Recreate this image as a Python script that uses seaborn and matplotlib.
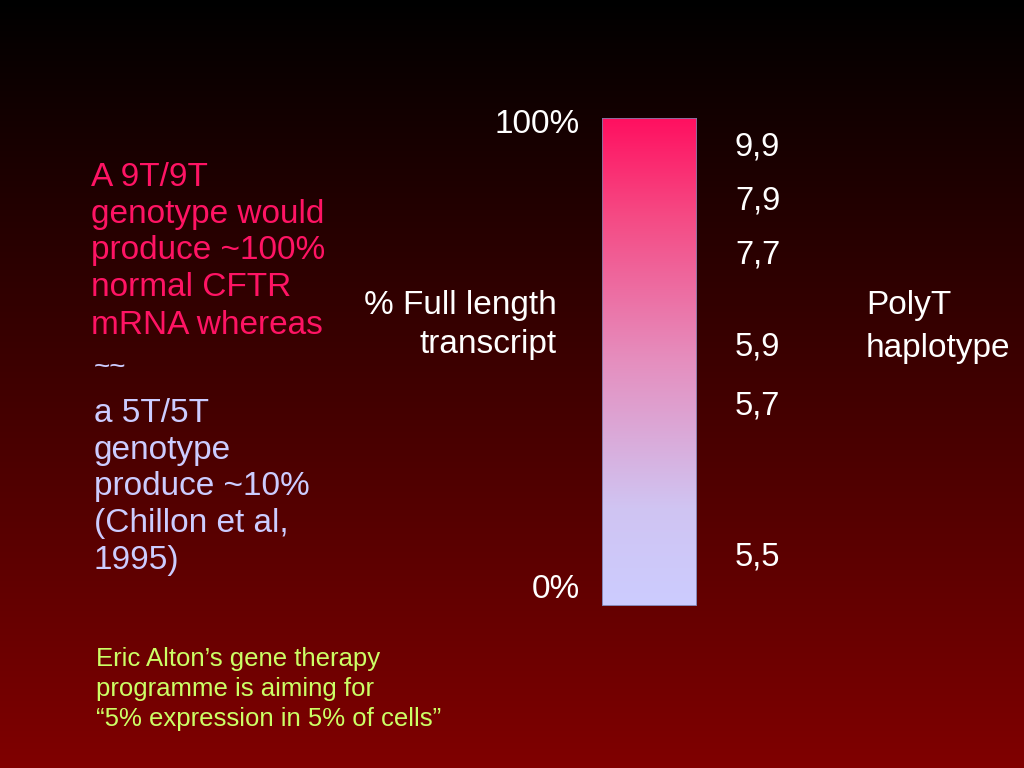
import numpy as np
import pandas as pd
import matplotlib
matplotlib.use("Agg")
import matplotlib.pyplot as plt
from matplotlib.colors import LinearSegmentedColormap
import seaborn as sns

sns.set_style("white")
plt.rcParams["font.family"] = ["Liberation Sans", "DejaVu Sans"]

# %%
# Data

bar_label = ["% Full length transcript"]
bar_value = [100]

haplotypes = ["9,9", "7,9", "7,7", "5,9", "5,7", "5,5"]
haplotype_pct = [94, 83, 72, 53, 41, 10]

pink_lines = ["A 9T/9T", "genotype would", "produce ~100%", "normal CFTR", "mRNA whereas"]
lavender_lines = ["a 5T/5T", "genotype", "produce ~10%", "(Chillon et al,", "1995)"]
note_lines = ["Eric Alton\u2019s gene therapy", "programme is aiming for",
              "\u201c5% expression in 5% of cells\u201d"]

PINK = "#ff1464"
LAVENDER = "#ccccff"
GREEN = "#ccff66"
FS = 24

# %%
# Figure + dark red gradient background

fig = plt.figure(figsize=(10.24, 7.68), dpi=100)
bg = fig.add_axes([0, 0, 1, 1])
bg_cmap = LinearSegmentedColormap.from_list("bg", ["#800000", "#000000"])
bg.imshow(np.linspace(0, 1, 256).reshape(-1, 1), cmap=bg_cmap, aspect="auto",
          extent=[0, 1, 0, 1], origin="lower")
bg.set_xlim(0, 1)
bg.set_ylim(0, 1)
bg.axis("off")

# %%
# Gradient bar

W, H = 1024, 768
ax = fig.add_axes([602 / W, (H - 606) / H, 95 / W, 488 / H])
df = pd.DataFrame({"label": bar_label, "value": bar_value})
sns.barplot(data=df, x="label", y="value", width=1.0, color=LAVENDER,
            edgecolor="#7a7aa8", linewidth=1.2, ax=ax)
ax.set_xlim(-0.5, 0.5)
ax.set_ylim(0, 100)
ax.axis("off")

bar_cmap = LinearSegmentedColormap.from_list(
    "bar", [(0.0, "#ccccff"), (0.2, "#d0c4f2"), (0.5, "#e58fbf"),
            (0.8, "#f54a84"), (1.0, "#ff1060")])
patch = ax.patches[0]
grad = ax.imshow(np.linspace(0, 1, 256).reshape(-1, 1), cmap=bar_cmap,
                 aspect="auto", extent=[-0.5, 0.5, 0, 100], origin="lower", zorder=3)
grad.set_clip_path(patch)
patch.set_facecolor("none")
patch.set_zorder(4)

# axis end labels
yt = ax.get_yaxis_transform()
ax.text(-0.23, 98.6, "100%", transform=yt, ha="right", va="center",
        fontsize=FS, color="white", clip_on=False)
ax.text(-0.23, 3.4, "0%", transform=yt, ha="right", va="center",
        fontsize=FS, color="white", clip_on=False)

# haplotype labels
for lab, pct in zip(haplotypes, haplotype_pct):
    ax.text(1.4, pct, lab, transform=yt, ha="left", va="center",
            fontsize=FS - 0.5, color="white", clip_on=False)

# %%
# Slide text

fig.text(557 / W, 1 - 325 / H, "% Full length\ntranscript", ha="right", va="center",
         fontsize=FS, color="white", linespacing=1.36)
fig.text(866 / W, 1 - 327 / H, "PolyT\nhaplotype", ha="left", va="center",
         fontsize=FS, color="white", linespacing=1.46)

fig.text(91 / W, 1 - 251 / H, "\n".join(pink_lines), ha="left", va="center",
         fontsize=FS, color=PINK, linespacing=1.25)
fig.text(94 / W, 1 - 368 / H, "~~", ha="left", va="center",
         fontsize=20, color=LAVENDER)
fig.text(94 / W, 1 - 487 / H, "\n".join(lavender_lines), ha="left", va="center",
         fontsize=FS, color=LAVENDER, linespacing=1.24)

fig.text(96 / W, 1 - 689 / H, "\n".join(note_lines), ha="left", va="center",
         fontsize=18.5, color=GREEN, linespacing=1.3)

fig.savefig("out.png", dpi=100)
